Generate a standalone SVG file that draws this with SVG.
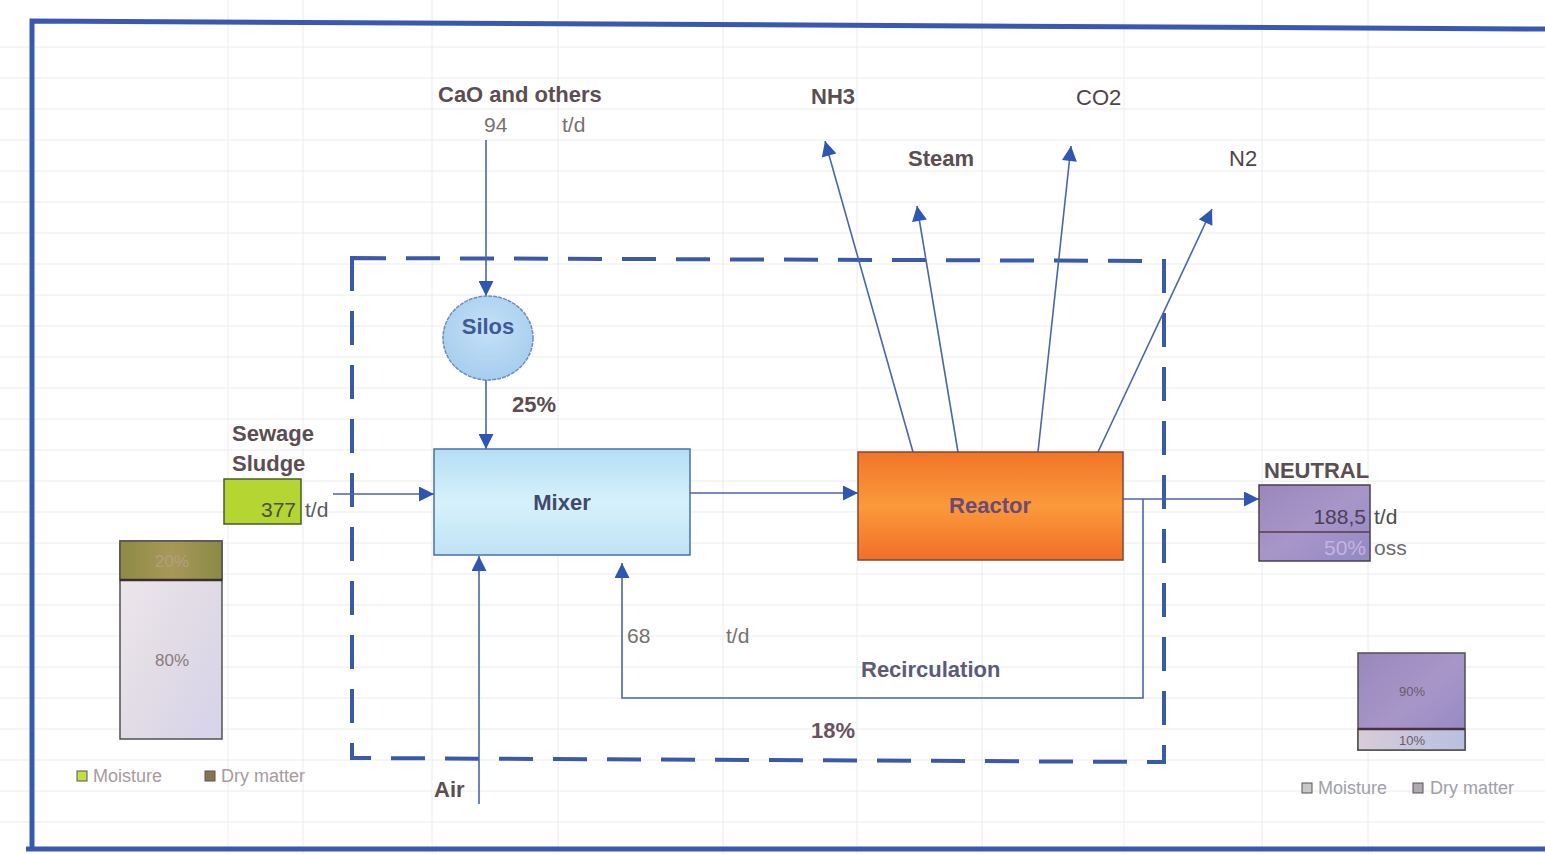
<svg xmlns="http://www.w3.org/2000/svg" width="1545" height="854" viewBox="0 0 1545 854">
<style>
.lbl{font-family:"Liberation Sans",Arial,sans-serif;font-weight:bold;font-size:22px;fill:#5b4e52}
.num{font-family:"Liberation Sans",Arial,sans-serif;font-size:21px;fill:#777070}
.leg{font-family:"Liberation Sans",Arial,sans-serif;font-size:18px;fill:#a89aa0}
.pct{font-family:"Liberation Sans",Arial,sans-serif;font-size:17px;fill:#8a7a7a;text-anchor:middle}
.pcts{font-family:"Liberation Sans",Arial,sans-serif;font-size:13px;fill:#6a5a6a;text-anchor:middle}
.conn{stroke:#4a66a8;stroke-width:1.6;fill:none}
.grid line{stroke:#ececec;stroke-width:1}
</style>
<defs>
<marker id="ah" viewBox="0 0 10 10" refX="10" refY="5" markerWidth="16" markerHeight="15" markerUnits="userSpaceOnUse" orient="auto">
<path d="M0,0 L10,5 L0,10 z" fill="#2f56b0"/>
</marker>
<linearGradient id="gMixer" x1="0" y1="0" x2="0" y2="1">
<stop offset="0" stop-color="#b5def4"/><stop offset="0.5" stop-color="#d6f1fb"/><stop offset="1" stop-color="#bfe3f5"/>
</linearGradient>
<linearGradient id="gReactor" x1="0" y1="0" x2="0" y2="1">
<stop offset="0" stop-color="#f27428"/><stop offset="0.5" stop-color="#fa9a3a"/><stop offset="1" stop-color="#f26e28"/>
</linearGradient>
<radialGradient id="gSilos" cx="0.5" cy="0.4" r="0.6">
<stop offset="0" stop-color="#c4e1f7"/><stop offset="1" stop-color="#a7cdee"/>
</radialGradient>
<linearGradient id="gPurple" x1="0" y1="0" x2="1" y2="1">
<stop offset="0" stop-color="#9a86bc"/><stop offset="0.5" stop-color="#a896c8"/><stop offset="1" stop-color="#9288c4"/>
</linearGradient>
<linearGradient id="gLav" x1="0" y1="0" x2="1" y2="0">
<stop offset="0" stop-color="#d8ccd8"/><stop offset="1" stop-color="#b8c0e0"/>
</linearGradient>
<linearGradient id="gLight" x1="0" y1="0" x2="1" y2="1">
<stop offset="0" stop-color="#efe8ec"/><stop offset="0.5" stop-color="#e2dce6"/><stop offset="1" stop-color="#d6d2ea"/>
</linearGradient>
<linearGradient id="gOlive" x1="0" y1="0" x2="1" y2="0">
<stop offset="0" stop-color="#8d8a46"/><stop offset="0.5" stop-color="#a89858"/><stop offset="1" stop-color="#8a8a48"/>
</linearGradient>
</defs>
<rect x="0" y="0" width="1545" height="854" fill="#ffffff"/>
<g class="grid">
<line x1="0" y1="47" x2="1545" y2="47"/><line x1="0" y1="78" x2="1545" y2="78"/><line x1="0" y1="109" x2="1545" y2="109"/>
<line x1="0" y1="140" x2="1545" y2="140"/><line x1="0" y1="171" x2="1545" y2="171"/><line x1="0" y1="202" x2="1545" y2="202"/>
<line x1="0" y1="233" x2="1545" y2="233"/><line x1="0" y1="264" x2="1545" y2="264"/><line x1="0" y1="295" x2="1545" y2="295"/>
<line x1="0" y1="326" x2="1545" y2="326"/><line x1="0" y1="357" x2="1545" y2="357"/><line x1="0" y1="388" x2="1545" y2="388"/>
<line x1="0" y1="419" x2="1545" y2="419"/><line x1="0" y1="450" x2="1545" y2="450"/><line x1="0" y1="481" x2="1545" y2="481"/>
<line x1="0" y1="512" x2="1545" y2="512"/><line x1="0" y1="543" x2="1545" y2="543"/><line x1="0" y1="574" x2="1545" y2="574"/>
<line x1="0" y1="605" x2="1545" y2="605"/><line x1="0" y1="636" x2="1545" y2="636"/><line x1="0" y1="667" x2="1545" y2="667"/>
<line x1="0" y1="698" x2="1545" y2="698"/><line x1="0" y1="729" x2="1545" y2="729"/><line x1="0" y1="760" x2="1545" y2="760"/>
<line x1="0" y1="791" x2="1545" y2="791"/><line x1="0" y1="822" x2="1545" y2="822"/>
<line x1="228" y1="0" x2="228" y2="854"/><line x1="303" y1="0" x2="303" y2="854"/><line x1="432" y1="0" x2="432" y2="854"/>
<line x1="558" y1="0" x2="558" y2="854"/><line x1="723" y1="0" x2="723" y2="854"/><line x1="857" y1="0" x2="857" y2="854"/>
<line x1="982" y1="0" x2="982" y2="854"/><line x1="1124" y1="0" x2="1124" y2="854"/><line x1="1262" y1="0" x2="1262" y2="854"/>
<line x1="1368" y1="0" x2="1368" y2="854"/>
</g>
<g id="frame">
<path d="M32,849 L32,21 L1545,29" fill="none" stroke="#3a58b0" stroke-width="5"/>
<line x1="26" y1="849" x2="1545" y2="849" stroke="#3a58b0" stroke-width="5"/>
</g>
<g id="boundary">
<path d="M352,258 L1164,261 L1164,762 L352,758 Z" fill="none" stroke="#3a5aa8" stroke-width="4" stroke-dasharray="34,20"/>
</g>
<g id="connectors">
<line class="conn" x1="486" y1="140" x2="486" y2="296" marker-end="url(#ah)"/>
<line class="conn" x1="486" y1="380" x2="486" y2="449" marker-end="url(#ah)"/>
<line class="conn" x1="333" y1="494" x2="434" y2="494" marker-end="url(#ah)"/>
<line class="conn" x1="479" y1="804" x2="479" y2="556" marker-end="url(#ah)"/>
<line class="conn" x1="690" y1="493" x2="858" y2="493" marker-end="url(#ah)"/>
<line class="conn" x1="1123" y1="499" x2="1259" y2="499" marker-end="url(#ah)"/>
<polyline class="conn" points="1143,499 1143,698 622,698 622,563" marker-end="url(#ah)"/>
<line class="conn" x1="913" y1="452" x2="825" y2="141" marker-end="url(#ah)"/>
<line class="conn" x1="958" y1="452" x2="917" y2="206" marker-end="url(#ah)"/>
<line class="conn" x1="1038" y1="452" x2="1071" y2="146" marker-end="url(#ah)"/>
<line class="conn" x1="1098" y1="452" x2="1212" y2="209" marker-end="url(#ah)"/>
</g>
<g id="cao">
<text class="lbl" x="438" y="102">CaO and others</text>
<text class="num" x="484" y="132">94</text>
<text class="num" x="562" y="132">t/d</text>
</g>
<g id="silos">
<ellipse cx="488" cy="338" rx="45" ry="42" fill="url(#gSilos)" stroke="#6b8cc0" stroke-width="1.5" stroke-dasharray="4,1"/>
<text x="488" y="334" text-anchor="middle" font-family="Liberation Sans, Arial, sans-serif" font-weight="bold" font-size="22" fill="#3e5a98">Silos</text>
<text class="lbl" x="512" y="412">25%</text>
</g>
<g id="mixer">
<rect x="434" y="449" width="256" height="106" fill="url(#gMixer)" stroke="#4a6fa8" stroke-width="1.5"/>
<text x="562" y="510" text-anchor="middle" font-family="Liberation Sans, Arial, sans-serif" font-weight="bold" font-size="22" fill="#3f4a6c">Mixer</text>
</g>
<g id="reactor">
<rect x="858" y="452" width="265" height="108" fill="url(#gReactor)" stroke="#7a4a3a" stroke-width="1.5"/>
<text x="990" y="513" text-anchor="middle" font-family="Liberation Sans, Arial, sans-serif" font-weight="bold" font-size="22" fill="#6a4a7a">Reactor</text>
</g>
<g id="gases">
<text class="lbl" x="811" y="104" style="font-weight:600">NH3</text>
<text class="lbl" x="908" y="166">Steam</text>
<text class="lbl" x="1076" y="105" style="font-weight:normal;fill:#4e4448">CO2</text>
<text class="lbl" x="1229" y="166" style="font-weight:normal;fill:#4e4448">N2</text>
</g>
<g id="sludge">
<text class="lbl" x="232" y="441">Sewage</text>
<text class="lbl" x="232" y="471">Sludge</text>
<rect x="224" y="479" width="77" height="45" fill="#b5d533" stroke="#4a5a30" stroke-width="1.5"/>
<text x="296" y="517" text-anchor="end" font-family="Liberation Sans, Arial, sans-serif" font-size="21" fill="#4a5040">377</text>
<text class="num" x="305" y="517" style="fill:#5a5a60">t/d</text>
</g>
<g id="sludge-bar">
<rect x="120" y="541" width="102" height="198" fill="url(#gLight)" stroke="#505050" stroke-width="1.5"/>
<rect x="120" y="541" width="102" height="39" fill="url(#gOlive)" stroke="#505050" stroke-width="1.5"/>
<line x1="120" y1="580" x2="222" y2="580" stroke="#3a3030" stroke-width="2.5"/>
<text class="pct" x="172" y="567" style="fill:#b0a080">20%</text>
<text class="pct" x="172" y="666">80%</text>
</g>
<g id="legend-left">
<rect x="77" y="771" width="10" height="10" fill="#c2e045" stroke="#555" stroke-width="1"/>
<text class="leg" x="93" y="782">Moisture</text>
<rect x="205" y="771" width="10" height="10" fill="#8a7450" stroke="#555" stroke-width="1"/>
<text class="leg" x="221" y="782">Dry matter</text>
</g>
<g id="air">
<text class="lbl" x="434" y="797">Air</text>
</g>
<g id="recirculation">
<text class="num" x="627" y="643">68</text>
<text class="num" x="726" y="643">t/d</text>
<text class="lbl" x="861" y="677" style="fill:#5c5a78">Recirculation</text>
<text class="lbl" x="811" y="738" style="fill:#6a5060">18%</text>
</g>
<g id="neutral">
<text class="lbl" x="1264" y="478">NEUTRAL</text>
<rect x="1259" y="485" width="111" height="76" fill="url(#gPurple)" stroke="#4a4050" stroke-width="1.5"/>
<line x1="1259" y1="532" x2="1370" y2="532" stroke="#5a3a4a" stroke-width="1.5"/>
<text x="1366" y="524" text-anchor="end" font-family="Liberation Sans, Arial, sans-serif" font-size="21" fill="#4a4058">188,5</text>
<text class="num" x="1374" y="524" style="fill:#4a4a50">t/d</text>
<text x="1366" y="555" text-anchor="end" font-family="Liberation Sans, Arial, sans-serif" font-size="21" fill="#c4b4e0">50%</text>
<text class="num" x="1374" y="555" style="fill:#6a6a70">oss</text>
</g>
<g id="neutral-bar">
<rect x="1358" y="653" width="107" height="97" fill="url(#gPurple)" stroke="#505050" stroke-width="1.5"/>
<rect x="1358" y="729" width="107" height="21" fill="url(#gLav)" stroke="#505050" stroke-width="1.5"/>
<line x1="1358" y1="729" x2="1465" y2="729" stroke="#4a3040" stroke-width="2.5"/>
<text class="pcts" x="1412" y="696">90%</text>
<text class="pcts" x="1412" y="745">10%</text>
</g>
<g id="legend-right">
<rect x="1302" y="783" width="10" height="10" fill="#c8c8c8" stroke="#555" stroke-width="1"/>
<text class="leg" x="1318" y="794" style="fill:#a0a0a8">Moisture</text>
<rect x="1413" y="783" width="10" height="10" fill="#b0a8b0" stroke="#555" stroke-width="1"/>
<text class="leg" x="1430" y="794" style="fill:#a0a0a8">Dry matter</text>
</g>
</svg>
